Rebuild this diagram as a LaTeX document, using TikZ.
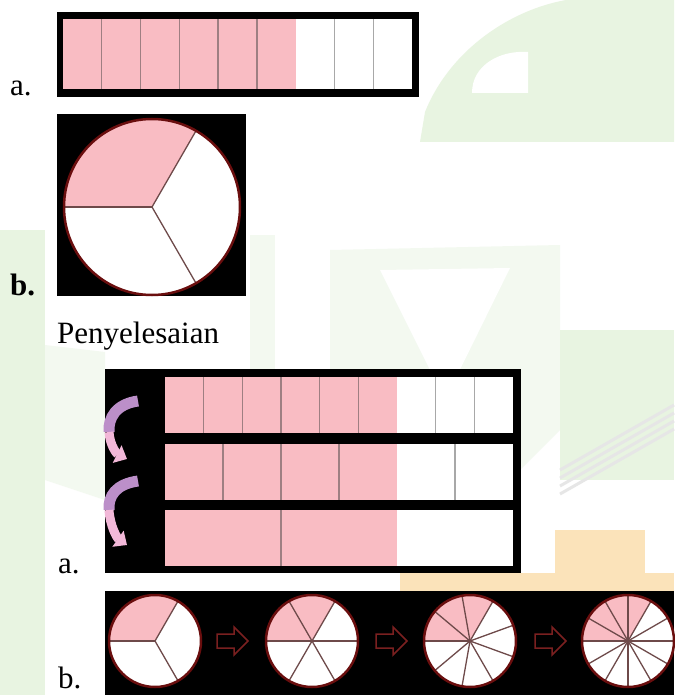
\documentclass[tikz,border=0pt]{standalone}
\usepackage{fontspec}
\setmainfont{Liberation Serif}
\usetikzlibrary{arrows.meta,positioning}
\definecolor{fracpink}{HTML}{F9BCC3}
\definecolor{pinkline}{HTML}{9E7F82}
\definecolor{whiteline}{HTML}{A8A8A8}
\definecolor{pieline}{HTML}{6E4A4A}
\definecolor{pierim}{HTML}{6A0E0E}
\definecolor{arrowred}{HTML}{7A2020}
\definecolor{bendpurple}{HTML}{BC8FC9}
\definecolor{bendpink}{HTML}{F2B8D8}
\definecolor{wmgreen}{HTML}{E8F4E1}
\definecolor{wmpale}{HTML}{F3F9F0}
\definecolor{wmorange}{HTML}{FBE3BA}
\definecolor{wmgray}{HTML}{E6E6E6}
\tikzset{
  lbl/.style={font=\fontsize{31}{36}\selectfont, inner sep=0pt, anchor=base west},
  frame/.style={fill=black},
  pinkdiv/.style={draw=pinkline, line width=1.4pt},
  whitediv/.style={draw=whiteline, line width=1.4pt},
  pieseg/.style={draw=pieline, line width=1.3pt},
  rim/.style={draw=pierim, line width=2.5pt},
  bendtop/.style={draw=bendpurple, line width=11pt},
  bendlow/.style={draw=bendpink, line width=9pt, -{Triangle[length=11pt,width=19pt]}},
  stepper/.style={draw=arrowred, fill=black, line width=1.5pt, line join=miter},
}
% bar of #5 cells, first #6 coloured
\newcommand\fracbar[6]{%
  \pgfmathsetmacro\cw{(#3-#1)/#5}
  \pgfmathtruncatemacro\nn{#5-1}
  \fill[white] (#1,#2) rectangle (#3,#4);
  \fill[fracpink] (#1,#2) rectangle ({#1+#6*\cw},#4);
  \foreach \i in {1,...,\nn}{
    \ifnum\i<#6 \draw[pinkdiv] ({#1+\i*\cw},#2) -- ({#1+\i*\cw},#4);\fi
    \ifnum\i>#6 \draw[whitediv] ({#1+\i*\cw},#2) -- ({#1+\i*\cw},#4);\fi
  }
}
% circle cut in #4 parts, a third coloured
\newcommand\fracpie[4]{%
  \fill[white] (#1,#2) circle[radius=#3];
  \fill[fracpink] (#1,#2) -- ++(-60:#3) arc[start angle=-60, end angle=-180, radius=#3] -- cycle;
  \foreach \i in {1,...,#4}{\draw[pieseg] (#1,#2) -- ++({180+\i*360/#4}:#3);}
  \draw[rim] (#1,#2) circle[radius=#3];
}
% hollow step arrow, tail at #1
\newcommand\steparrow[3]{%
  \coordinate (#3) at (#1,#2);
  \draw[stepper] (#3) ++(0,-7) -- ++(17,0) -- ++(0,-7) -- ++(14,14) -- ++(-14,14) -- ++(0,-7) -- ++(-17,0) -- cycle;
}

\begin{document}
\begin{tikzpicture}[x=1pt, y=-1pt]
  \useasboundingbox (0,0) rectangle (674,695);
  \fill[white] (0,0) rectangle (674,695);
  % faint logo behind
  \fill[wmgreen] (425,112) .. controls (450,50) and (510,10) .. (566,0) -- (674,0) -- (674,142) -- (420,142) -- cycle;
  \fill[white] (472,93) .. controls (472,65) and (500,50) .. (528,52) -- (528,93) -- cycle;
  \fill[wmgreen] (0,230) rectangle (45,695);
  \fill[wmpale] (45,345) -- (105,352) -- (105,500) -- (45,480) -- cycle;
  \fill[wmpale] (250,235) rectangle (275,520);
  \fill[wmpale] (330,250) -- (560,245) -- (560,430) -- (470,520) -- (330,430) -- cycle;
  \fill[white] (380,270) -- (510,268) -- (445,400) -- cycle;
  \fill[wmgreen] (560,330) rectangle (674,480);
  \foreach \k in {0,1,2,3} \draw[wmgray, line width=3pt] (560,{470+\k*8}) -- (674,{405+\k*8});
  \fill[wmorange] (400,573) rectangle (674,591);
  \fill[wmorange] (555,530) rectangle (645,573);
  % question
  \node[lbl] (qa) at (10,96) {a.};
  \fill[frame] (57,12) rectangle (419,97);
  \fracbar{63}{19}{412}{89}{9}{6}
  \node[lbl, font=\fontsize{31}{36}\selectfont\bfseries] (qb) at (10,295) {b.};
  \fill[frame] (57,114) rectangle (246,296);
  \fracpie{152}{207}{88}{3}
  \node[lbl] (sol) at (57,343) {Penyelesaian};
  % answer a
  \node[lbl] (sa) at (58,573) {a.};
  \fill[frame] (105,369) rectangle (521,573);
  \fracbar{165}{377}{513}{433}{9}{6}
  \fracbar{165}{444}{513}{500}{6}{4}
  \fracbar{165}{510}{513}{566}{3}{2}
  \draw[bendtop] (138,401) .. controls (116,404) and (108,418) .. (109,432);
  \draw[bendlow] (109,432) .. controls (110,446) and (117,454) .. (127,459);
  \draw[bendtop] (138,481) .. controls (116,484) and (108,496) .. (109,510);
  \draw[bendlow] (109,510) .. controls (110,526) and (117,538) .. (127,545);
  % answer b
  \node[lbl] (sb) at (58,688) {b.};
  \fill[frame] (105,591) rectangle (674,695);
  \fracpie{155}{641}{46}{3}
  \fracpie{312}{641}{46}{6}
  \fracpie{470}{641}{46}{9}
  \fracpie{628}{641}{46}{12}
  \steparrow{217}{641}{s1}
  \steparrow{376}{641}{s2}
  \steparrow{535}{641}{s3}
\end{tikzpicture}
\end{document}
